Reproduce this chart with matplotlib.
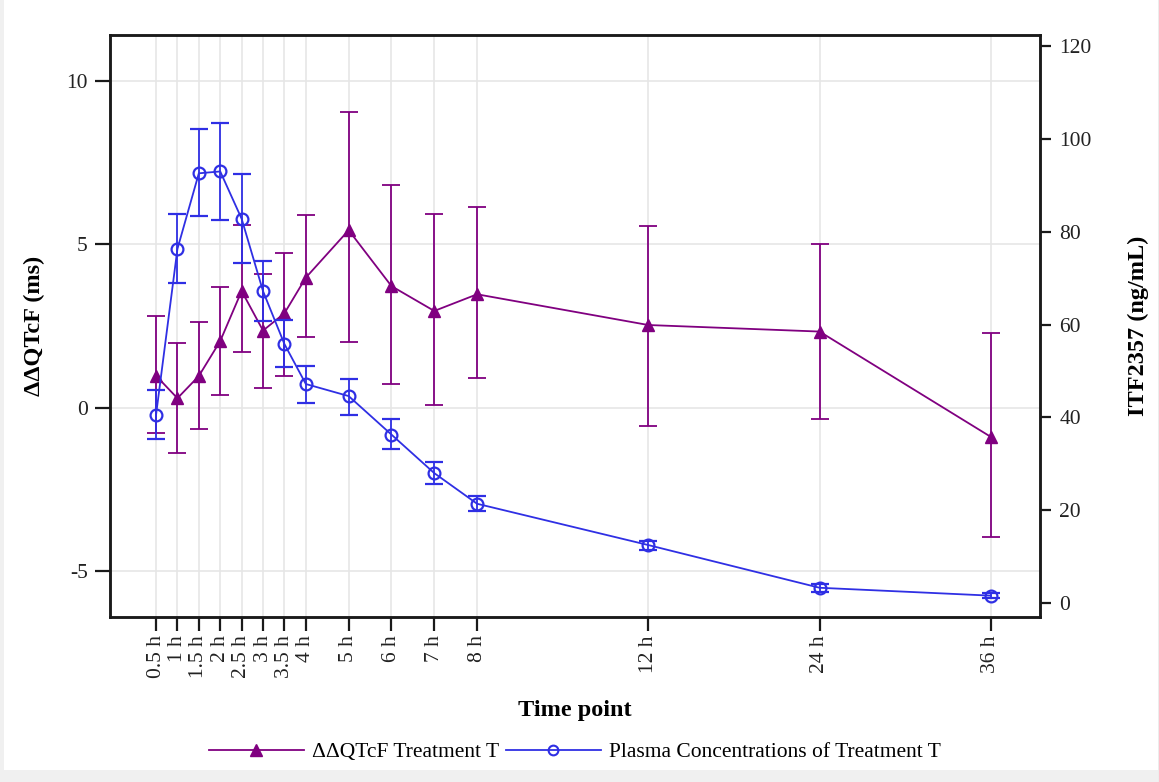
import matplotlib
matplotlib.use("Agg")
import matplotlib.pyplot as plt
from matplotlib.patches import Rectangle

plt.rcParams['font.family'] = ['Liberation Serif', 'DejaVu Serif']

# Sampling times (hours) and their tick labels
hours = [0.5, 1, 1.5, 2, 2.5, 3, 3.5, 4, 5, 6, 7, 8, 12, 24, 36]
tick_labels = ["0.5 h", "1 h", "1.5 h", "2 h", "2.5 h", "3 h", "3.5 h", "4 h",
               "5 h", "6 h", "7 h", "8 h", "12 h", "24 h", "36 h"]

# ΔΔQTcF (ms): mean with lower / upper CI limits
qtcf_mean = [0.98, 0.29, 0.97, 2.04, 3.57, 2.36, 2.89, 3.98, 5.43, 3.72, 2.96, 3.47, 2.53, 2.33, -0.89]
qtcf_low = [-0.76, -1.39, -0.66, 0.39, 1.71, 0.61, 0.98, 2.15, 2.01, 0.72, 0.08, 0.92, -0.56, -0.35, -3.95]
qtcf_high = [2.81, 1.99, 2.62, 3.70, 5.58, 4.10, 4.74, 5.89, 9.03, 6.81, 5.92, 6.14, 5.57, 5.02, 2.28]

# ITF2357 plasma concentration (ng/mL): mean with lower / upper limits
conc_mean = [40.5, 76.3, 92.6, 93.0, 82.8, 67.2, 55.8, 47.2, 44.6, 36.3, 28.0, 21.4, 12.5, 3.3, 1.6]
conc_low = [35.3, 69.0, 83.3, 82.6, 73.3, 60.7, 50.9, 43.2, 40.6, 33.3, 25.7, 19.8, 11.5, 2.4, 1.0]
conc_high = [45.9, 83.8, 102.1, 103.4, 92.5, 73.8, 60.9, 51.0, 48.3, 39.6, 30.3, 23.1, 13.4, 4.1, 2.2]

left_ticks = [-5, 0, 5, 10]
right_ticks = [0, 20, 40, 60, 80, 100, 120]

PURPLE = "#800080"
BLUE = "#2f2fe4"
FS = 15.5
LFS = 17.5


def axis_pos(h):
    # linear up to 12 h, compressed 3:1 afterwards
    return h if h <= 12 else 12 + (h - 12) / 3.0


x = [axis_pos(h) for h in hours]

fig = plt.figure(figsize=(11.59, 7.82), dpi=100)
fig.patch.set_facecolor("white")
# light frame strips around the figure
fig.patches.append(Rectangle((0, 0), 1, 12 / 782, transform=fig.transFigure,
                             facecolor="#f0f0f0", edgecolor="none", zorder=-1))
fig.patches.append(Rectangle((0, 0), 4 / 1159, 1, transform=fig.transFigure,
                             facecolor="#f0f0f0", edgecolor="none", zorder=-1))
fig.patches.append(Rectangle((1 - 1.5 / 1159, 0), 1.5 / 1159, 1, transform=fig.transFigure,
                             facecolor="#ececec", edgecolor="none", zorder=-1))

ax = fig.add_axes([110 / 1159, 1 - 617 / 782, 930 / 1159, 582 / 782])
ax2 = ax.twinx()

# ΔΔQTcF on the left axis
q_err = [[m - lo for m, lo in zip(qtcf_mean, qtcf_low)],
         [hi - m for m, hi in zip(qtcf_mean, qtcf_high)]]
ax.errorbar(x, qtcf_mean, yerr=q_err, color=PURPLE, ecolor=PURPLE, lw=1.3,
            elinewidth=1.3, capsize=6.5, capthick=1.3, marker="^", markersize=9,
            markerfacecolor=PURPLE, markeredgecolor=PURPLE, zorder=3)

# plasma concentration on the right axis
c_err = [[m - lo for m, lo in zip(conc_mean, conc_low)],
         [hi - m for m, hi in zip(conc_mean, conc_high)]]
ax2.errorbar(x, conc_mean, yerr=c_err, color=BLUE, ecolor=BLUE, lw=1.3,
             elinewidth=1.3, capsize=6.5, capthick=1.3, marker="o", markersize=8.5,
             markerfacecolor="none", markeredgecolor=BLUE, markeredgewidth=1.6,
             zorder=3)

ax.set_xlim(-0.575, 21.15)
ax.set_ylim(-6.4, 11.4)
ax2.set_ylim(-3.0, 122.4)

ax.set_xticks(x)
ax.set_xticklabels(tick_labels, rotation=90, fontsize=FS)
ax.set_yticks(left_ticks)
ax.set_yticklabels([str(t) for t in left_ticks], fontsize=FS)
ax2.set_yticks(right_ticks)
ax2.set_yticklabels([str(t) for t in right_ticks], fontsize=FS)

ax.grid(True, color="#e6e6e6", lw=1.2)
ax.set_axisbelow(True)

for a in (ax, ax2):
    for s in a.spines.values():
        s.set_linewidth(1.8)
        s.set_color("#1a1a1a")
    a.tick_params(axis="both", direction="out", length=9, width=1.6,
                  colors="#1a1a1a", labelcolor="#222222", pad=5)
ax.tick_params(axis="x", length=10, pad=3)
ax.tick_params(axis="y", length=11, pad=5)
ax2.tick_params(axis="y", length=8, pad=6)

ax.set_xlabel("Time point", fontsize=LFS, fontweight="bold", labelpad=16)
ax.set_ylabel("ΔΔQTcF (ms)", fontsize=LFS, fontweight="bold", labelpad=15)
ax2.set_ylabel("ITF2357 (ng/mL)", fontsize=LFS, fontweight="bold", labelpad=26)

# legend below the plot
h1 = plt.Line2D([], [], color=PURPLE, lw=1.3, marker="^", markersize=9,
                markerfacecolor=PURPLE, markeredgecolor=PURPLE)
h2 = plt.Line2D([], [], color=BLUE, lw=1.3, marker="o", markersize=7,
                markerfacecolor="none", markeredgecolor=BLUE, markeredgewidth=1.5)
fig.legend([h1, h2], ["ΔΔQTcF Treatment T", "Plasma Concentrations of Treatment T"],
           loc="center", bbox_to_anchor=(575 / 1159, 1 - 752 / 782), ncol=2,
           frameon=False, fontsize=FS, handlelength=4.4, handletextpad=0.4,
           columnspacing=0.3)

fig.savefig("out.png", dpi=100)
